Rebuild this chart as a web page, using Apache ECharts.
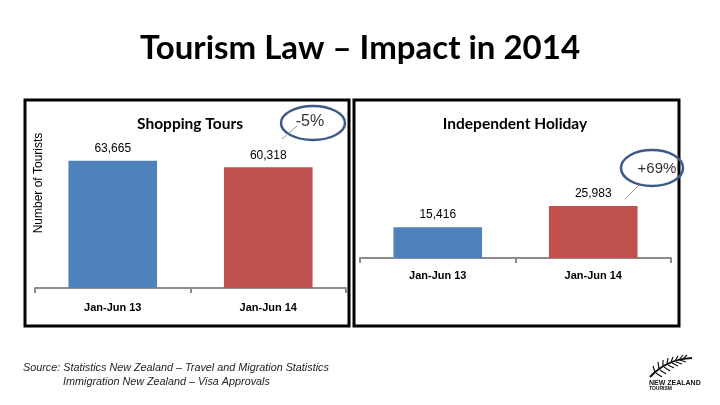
<!DOCTYPE html>
<html>
<head>
<meta charset="utf-8">
<script src="https://cdn.jsdelivr.net/npm/echarts@6/dist/echarts.min.js"></script>
<style>
html,body{margin:0;padding:0;background:#fff;}
#chart{width:720px;height:405px;}
</style>
</head>
<body>
<div id="chart"></div>
<script>
const categories = ['Jan-Jun 13', 'Jan-Jun 14'];
const shoppingTours = [63665, 60318];
const independentHoliday = [15416, 25983];
const changeLabels = ['-5%', '+69%'];
const panelTitles = ['Shopping Tours', 'Independent Holiday'];
const mainTitle = 'Tourism Law \u2013 Impact in 2014';
const yAxisName = 'Number of Tourists';
const sourceLines = [
  'Source: Statistics New Zealand \u2013 Travel and Migration Statistics',
  'Immigration New Zealand \u2013 Visa Approvals'
];
const barColors = ['#4f81bd', '#c0504d'];

const chart = echarts.init(document.getElementById('chart'), null, {renderer: 'canvas'});

function barData(vals) {
  return vals.map((v, i) => ({value: v, itemStyle: {color: barColors[i]}}));
}
const fmt = p => p.value.toLocaleString('en-US');

function xAxisDef(gridIndex, margin) {
  return {
    type: 'category', gridIndex: gridIndex, data: categories,
    axisLine: {lineStyle: {color: '#8c8c8c', width: 2}},
    axisTick: {show: true, length: 5, lineStyle: {color: '#8c8c8c', width: 2}},
    axisLabel: {color: '#000', fontFamily: 'Liberation Sans', fontWeight: 'bold', fontSize: 11, margin: margin}
  };
}
function yAxisDef(gridIndex) {
  return {
    type: 'value', gridIndex: gridIndex, min: 0, max: 70000,
    axisLine: {show: false}, axisTick: {show: false}, axisLabel: {show: false}, splitLine: {show: false}
  };
}
function seriesDef(idx, vals) {
  return {
    type: 'bar', xAxisIndex: idx, yAxisIndex: idx, data: barData(vals), barWidth: '57%',
    label: {show: true, position: 'top', distance: 6, color: '#000', fontFamily: 'Liberation Sans', fontSize: 12, formatter: fmt},
    silent: true
  };
}

const ellipseStyle = {fill: 'none', stroke: '#3c5a87', lineWidth: 2.5};
const leafStyle = {stroke: '#111', lineWidth: 1.2};
const leaves = [
  [655, 372, 653, 366], [659, 369, 658, 362], [663, 366, 663, 360], [667, 364, 668, 358],
  [671, 362, 673, 357], [675, 361, 678, 356], [679, 360, 683, 355], [683, 359, 687, 355],
  [656, 373, 662, 377], [660, 370, 666, 374], [664, 367, 670, 371], [668, 365, 674, 368],
  [672, 363, 678, 366], [676, 362, 682, 364], [680, 360, 686, 362]
].map(l => ({type: 'line', shape: {x1: l[0], y1: l[1], x2: l[2], y2: l[3]}, style: leafStyle, silent: true}));

chart.setOption({
  animation: false,
  backgroundColor: '#fff',
  title: [
    {text: mainTitle, left: 'center', top: 27, textStyle: {fontFamily: 'Lato', fontWeight: 'bold', fontSize: 33, color: '#000'}},
    {text: panelTitles[0], left: 185, top: 111, textAlign: 'center', textStyle: {fontFamily: 'Lato', fontWeight: 'bold', fontSize: 15.5, color: '#000'}},
    {text: panelTitles[1], left: 510, top: 111, textAlign: 'center', textStyle: {fontFamily: 'Lato', fontWeight: 'bold', fontSize: 15.5, color: '#000'}}
  ],
  grid: [
    {left: 35, width: 311, top: 148, height: 140},
    {left: 360, width: 311, top: 118, height: 140}
  ],
  xAxis: [xAxisDef(0, 14), xAxisDef(1, 12)],
  yAxis: [yAxisDef(0), yAxisDef(1)],
  series: [seriesDef(0, shoppingTours), seriesDef(1, independentHoliday)],
  graphic: [
    {type: 'rect', shape: {x: 25, y: 100, width: 324, height: 226}, style: {fill: 'none', stroke: '#000', lineWidth: 3}, silent: true},
    {type: 'rect', shape: {x: 354, y: 100, width: 325, height: 226}, style: {fill: 'none', stroke: '#000', lineWidth: 3}, silent: true},
    {type: 'text', x: 39, y: 183, rotation: Math.PI / 2, style: {text: yAxisName, fontFamily: 'Liberation Sans', fontSize: 12, fill: '#000', align: 'center', verticalAlign: 'middle'}},
    {type: 'ellipse', shape: {cx: 313, cy: 123, rx: 32, ry: 17}, style: ellipseStyle, silent: true},
    {type: 'line', shape: {x1: 282, y1: 139, x2: 297, y2: 126}, style: {stroke: '#999', lineWidth: 1}, silent: true},
    {type: 'text', x: 310, y: 122, style: {text: changeLabels[0], fontFamily: 'Liberation Sans', fontSize: 16, fill: '#333', align: 'center', verticalAlign: 'middle'}},
    {type: 'ellipse', shape: {cx: 652, cy: 168, rx: 31, ry: 18}, style: ellipseStyle, silent: true},
    {type: 'line', shape: {x1: 626, y1: 198, x2: 639, y2: 185}, style: {stroke: '#999', lineWidth: 1}, silent: true},
    {type: 'text', x: 657, y: 169, style: {text: changeLabels[1], fontFamily: 'Liberation Sans', fontSize: 15, fill: '#333', align: 'center', verticalAlign: 'middle'}},
    {type: 'text', x: 23, y: 368, style: {text: sourceLines[0], fontFamily: 'Liberation Sans', fontStyle: 'italic', fontSize: 10.8, fill: '#222', align: 'left', verticalAlign: 'middle'}},
    {type: 'text', x: 63, y: 382, style: {text: sourceLines[1], fontFamily: 'Liberation Sans', fontStyle: 'italic', fontSize: 10.8, fill: '#222', align: 'left', verticalAlign: 'middle'}},
    {type: 'bezierCurve', shape: {x1: 650, y1: 377, x2: 692, y2: 358, cpx1: 662, cpy1: 364, cpx2: 675, cpy2: 359}, style: {fill: 'none', stroke: '#111', lineWidth: 2}, silent: true}
  ].concat(leaves).concat([
    {type: 'text', x: 649, y: 383, style: {text: 'NEW ZEALAND', fontFamily: 'Liberation Sans', fontWeight: 'bold', fontSize: 7, fill: '#111', align: 'left', verticalAlign: 'middle'}},
    {type: 'text', x: 649, y: 389, style: {text: 'TOURISM', fontFamily: 'Liberation Sans', fontWeight: 'bold', fontSize: 5, fill: '#111', align: 'left', verticalAlign: 'middle'}}
  ])
});
</script>
</body>
</html>
